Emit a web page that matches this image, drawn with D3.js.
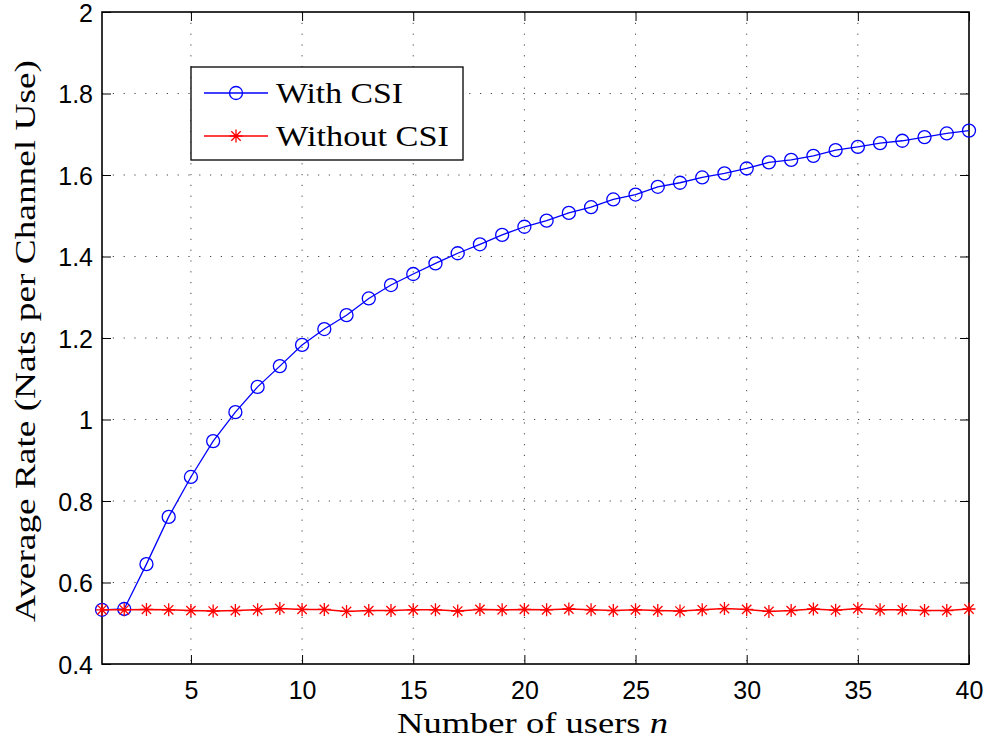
<!DOCTYPE html>
<html>
<head>
<meta charset="utf-8">
<script src="https://cdn.jsdelivr.net/npm/d3@7"></script>
<style>
  body { margin: 0; background: #fff; }
  .tick text { font-family: "Liberation Sans", Arimo, Helvetica, Arial; font-size: 25px; fill: #000; }
  .lbl { font-family: "Liberation Serif", Tinos, "DejaVu Serif", "Times New Roman"; font-size: 30px; fill: #000; }
</style>
</head>
<body>
<div id="chart"></div>
<script>
// number of users n = 1..40
const users = d3.range(1, 41);

const withCSI = [
  0.533, 0.535, 0.645, 0.761, 0.859, 0.947, 1.018, 1.080, 1.131, 1.183,
  1.222, 1.256, 1.297, 1.330, 1.357, 1.383, 1.408, 1.430, 1.453, 1.473,
  1.488, 1.507, 1.521, 1.540, 1.552, 1.571, 1.581, 1.594, 1.604, 1.616,
  1.631, 1.637, 1.647, 1.661, 1.669, 1.678, 1.684, 1.693, 1.702, 1.709
];

const withoutCSI = [
  0.533, 0.533, 0.534, 0.533, 0.531, 0.530, 0.531, 0.533, 0.536, 0.534,
  0.534, 0.529, 0.531, 0.531, 0.533, 0.533, 0.530, 0.534, 0.533, 0.534,
  0.533, 0.535, 0.533, 0.531, 0.533, 0.531, 0.530, 0.533, 0.536, 0.534,
  0.529, 0.531, 0.535, 0.532, 0.536, 0.533, 0.533, 0.531, 0.531, 0.535
];

const xTicks = [5, 10, 15, 20, 25, 30, 35, 40];
const yTicks = [0.4, 0.6, 0.8, 1.0, 1.2, 1.4, 1.6, 1.8, 2.0];
const seriesNames = ['With CSI', 'Without CSI'];

const W = 989, H = 740;
const M = { left: 102, right: 20, top: 12, bottom: 76 };
const iw = W - M.left - M.right, ih = H - M.top - M.bottom;

const svg = d3.select('#chart').append('svg')
  .attr('width', W).attr('height', H);

const g = svg.append('g').attr('transform', `translate(${M.left},${M.top})`);

const x = d3.scaleLinear().domain([1, 40]).range([0, iw]);
const y = d3.scaleLinear().domain([0.4, 2]).range([ih, 0]);

// grid
g.append('g').selectAll('line.gx')
  .data(xTicks.filter(d => d < 40)).enter().append('line')
  .attr('x1', d => x(d)).attr('x2', d => x(d))
  .attr('y1', 0).attr('y2', ih)
  .attr('stroke', '#444').attr('stroke-width', 1)
  .attr('stroke-dasharray', '1.2,9.6');
g.append('g').selectAll('line.gy')
  .data(yTicks.slice(1, -1)).enter().append('line')
  .attr('x1', 0).attr('x2', iw)
  .attr('y1', d => y(d)).attr('y2', d => y(d))
  .attr('stroke', '#444').attr('stroke-width', 1)
  .attr('stroke-dasharray', '1.2,9.6');

const fmt = d => String(+d.toFixed(1));

// axes, ticks inward like matlab
const xb = g.append('g').attr('transform', `translate(0,${ih})`)
  .call(d3.axisBottom(x).tickValues(xTicks).tickSizeInner(-9).tickSizeOuter(0).tickPadding(17));
const xt = g.append('g')
  .call(d3.axisTop(x).tickValues(xTicks).tickSizeInner(-9).tickSizeOuter(0).tickFormat(''));
const yl = g.append('g')
  .call(d3.axisLeft(y).tickValues(yTicks).tickSizeInner(-9).tickSizeOuter(0).tickPadding(9).tickFormat(fmt));
const yr = g.append('g').attr('transform', `translate(${iw},0)`)
  .call(d3.axisRight(y).tickValues(yTicks).tickSizeInner(-9).tickSizeOuter(0).tickFormat(''));

[xb, xt, yl, yr].forEach(a => {
  a.attr('font-family', null).attr('font-size', null);
  a.select('.domain').remove();
  a.selectAll('.tick line').attr('stroke', '#000').attr('stroke-width', 1);
});
xb.selectAll('.tick text').attr('dy', '0.71em');
yl.selectAll('.tick text').attr('dy', '0.36em');

g.append('rect')
  .attr('width', iw).attr('height', ih)
  .attr('fill', 'none').attr('stroke', '#000').attr('stroke-width', 1.6);

// lines
const line = d3.line().x((d, i) => x(users[i])).y(d => y(d));

g.append('path').datum(withCSI)
  .attr('d', line).attr('fill', 'none')
  .attr('stroke', '#0000ff').attr('stroke-width', 1.3);

g.append('g').selectAll('circle')
  .data(withCSI).enter().append('circle')
  .attr('cx', (d, i) => x(users[i])).attr('cy', d => y(d))
  .attr('r', 6.5).attr('fill', 'none')
  .attr('stroke', '#0000ff').attr('stroke-width', 1.3);

g.append('path').datum(withoutCSI)
  .attr('d', line).attr('fill', 'none')
  .attr('stroke', '#ff0000').attr('stroke-width', 1.5);

function star(sel, r) {
  const a = r * 0.72;
  sel.append('path')
    .attr('d', `M0,${-r}V${r}M${-r},0H${r}M${-a},${-a}L${a},${a}M${-a},${a}L${a},${-a}`)
    .attr('fill', 'none').attr('stroke', '#ff0000').attr('stroke-width', 1.3);
}

g.append('g').selectAll('g')
  .data(withoutCSI).enter().append('g')
  .attr('transform', (d, i) => `translate(${x(users[i])},${y(d)})`)
  .call(star, 6.5);

// legend
const lg = svg.append('g').attr('transform', 'translate(191,67)');
lg.append('rect').attr('width', 272).attr('height', 93)
  .attr('fill', '#fff').attr('stroke', '#000').attr('stroke-width', 1.3);

const rows = lg.selectAll('g.row').data(seriesNames).enter().append('g')
  .attr('transform', (d, i) => `translate(0,${26 + i * 43})`);
rows.append('line').attr('x1', 13).attr('x2', 77)
  .attr('stroke', (d, i) => i ? '#ff0000' : '#0000ff').attr('stroke-width', 1.3);
rows.filter((d, i) => i === 0).append('circle')
  .attr('cx', 45).attr('r', 6.5).attr('fill', 'none')
  .attr('stroke', '#0000ff').attr('stroke-width', 1.3);
rows.filter((d, i) => i === 1).append('g')
  .attr('transform', 'translate(45,0)').call(star, 6.5);
rows.append('text').attr('class', 'lbl')
  .attr('x', 85).attr('y', 10)
  .attr('textLength', (d, i) => i ? 173 : 127)
  .attr('lengthAdjust', 'spacingAndGlyphs')
  .text(d => d);

// axis labels
const xl = svg.append('text').attr('class', 'lbl')
  .attr('x', 397).attr('y', 733)
  .attr('textLength', 271).attr('lengthAdjust', 'spacingAndGlyphs');
xl.append('tspan').text('Number of users ');
xl.append('tspan').attr('font-style', 'italic').text('n');

svg.append('text').attr('class', 'lbl')
  .attr('transform', 'translate(35,622) rotate(-90)')
  .attr('textLength', 562).attr('lengthAdjust', 'spacingAndGlyphs')
  .text('Average Rate (Nats per Channel Use)');
</script>
</body>
</html>
